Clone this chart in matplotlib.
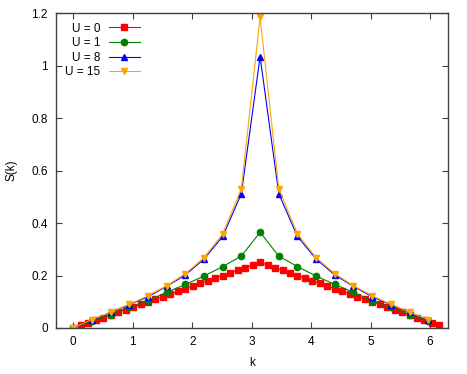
import matplotlib
matplotlib.use("Agg")
import matplotlib.pyplot as plt
from matplotlib.ticker import FormatStrFormatter

plt.rcParams['font.family'] = ['Liberation Sans', 'DejaVu Sans']

# k grid for the free (U = 0) case, 50 sites
k_free = [0.000, 0.126, 0.251, 0.377, 0.503, 0.628, 0.754, 0.880, 1.005, 1.131,
          1.257, 1.382, 1.508, 1.634, 1.759, 1.885, 2.011, 2.136, 2.262, 2.388,
          2.513, 2.639, 2.765, 2.890, 3.016, 3.142, 3.267, 3.393, 3.519, 3.644,
          3.770, 3.896, 4.021, 4.147, 4.273, 4.398, 4.524, 4.650, 4.775, 4.901,
          5.027, 5.152, 5.278, 5.404, 5.529, 5.655, 5.781, 5.906, 6.032, 6.158]
s_u0 = [0.00, 0.01, 0.02, 0.03, 0.04, 0.05, 0.06, 0.07, 0.08, 0.09,
        0.10, 0.11, 0.12, 0.13, 0.14, 0.15, 0.16, 0.17, 0.18, 0.19,
        0.20, 0.21, 0.22, 0.23, 0.24, 0.25, 0.24, 0.23, 0.22, 0.21,
        0.20, 0.19, 0.18, 0.17, 0.16, 0.15, 0.14, 0.13, 0.12, 0.11,
        0.10, 0.09, 0.08, 0.07, 0.06, 0.05, 0.04, 0.03, 0.02, 0.01]

# k grid for the interacting runs, 20 sites
k_int = [0.000, 0.314, 0.628, 0.942, 1.257, 1.571, 1.885, 2.199, 2.513, 2.827,
         3.142, 3.456, 3.770, 4.084, 4.398, 4.712, 5.027, 5.341, 5.655, 5.969]
s_u1 = [0.000, 0.026, 0.051, 0.079, 0.104, 0.136, 0.166, 0.198, 0.234, 0.274,
        0.365, 0.274, 0.234, 0.198, 0.166, 0.136, 0.104, 0.079, 0.051, 0.026]
s_u8 = [0.000, 0.029, 0.060, 0.089, 0.119, 0.159, 0.202, 0.263, 0.349, 0.512,
        1.034, 0.512, 0.349, 0.263, 0.202, 0.159, 0.119, 0.089, 0.060, 0.029]
s_u15 = [0.000, 0.032, 0.060, 0.090, 0.123, 0.161, 0.207, 0.268, 0.359, 0.531,
         1.185, 0.531, 0.359, 0.268, 0.207, 0.161, 0.123, 0.090, 0.060, 0.032]

x_ticks = [0, 1, 2, 3, 4, 5, 6]
y_ticks = [0, 0.2, 0.4, 0.6, 0.8, 1.0, 1.2]

fig = plt.figure(figsize=(4.67, 3.74), dpi=100)
ax = fig.add_axes([0.12, 0.123, 0.839, 0.842])

ax.plot(k_free, s_u0, color='#ff0000', marker='s', ms=4.3, lw=0.8, label='U = 0')
ax.plot(k_int, s_u1, color='#008000', marker='o', ms=4.5, lw=0.8, label='U = 1')
ax.plot(k_int, s_u8, color='#0000ff', marker='^', ms=5, lw=0.8, label='U = 8')
ax.plot(k_int, s_u15, color='#ffa500', marker='v', ms=5, lw=0.8, label='U = 15')

ax.set_xlim(-0.29, 6.3)
ax.set_ylim(0, 1.2)
ax.set_xticks(x_ticks)
ax.set_yticks(y_ticks)
ax.yaxis.set_major_formatter(FormatStrFormatter('%g'))
ax.tick_params(direction='in', top=True, right=True, length=4, width=0.8,
               color='#404040', labelsize=8.5, pad=6)
for sp in ax.spines.values():
    sp.set_color('#404040')
    sp.set_linewidth(1.0)

ax.set_xlabel('k', fontsize=8.5, labelpad=6)
ax.set_ylabel('S(k)', fontsize=8.5, labelpad=10)

ax.legend(loc='upper left', frameon=False, markerfirst=False, fontsize=8.5,
          handlelength=2.6, handletextpad=0.7, labelspacing=0.22,
          borderaxespad=0.4, bbox_to_anchor=(0.0, 1.0))

fig.savefig('out.png', dpi=100)
